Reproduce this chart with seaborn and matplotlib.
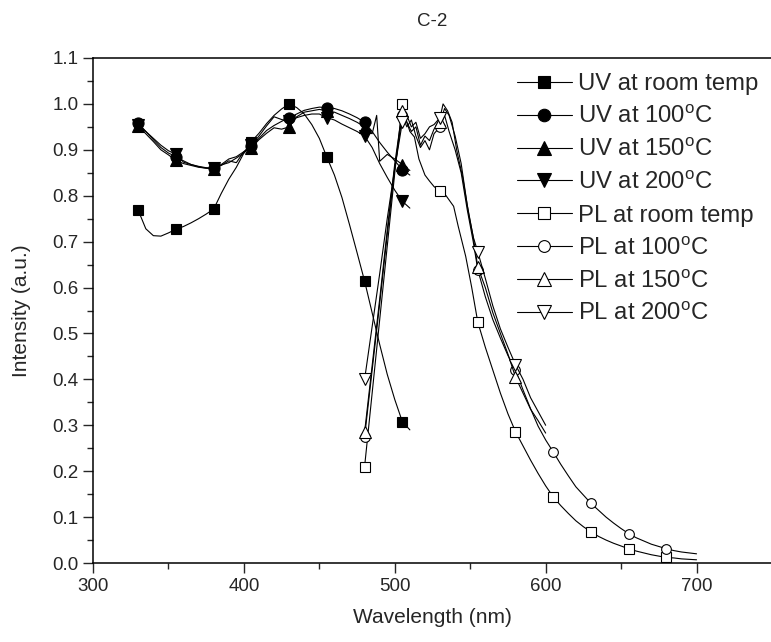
import numpy as np
import matplotlib
matplotlib.use("Agg")
import matplotlib.pyplot as plt
from matplotlib.lines import Line2D
from matplotlib.ticker import MultipleLocator
import seaborn as sns

# ---------------- absorption (UV) spectra ----------------
uv_room_wl = [330, 335, 340, 345, 350, 355, 360, 365, 370, 375, 380, 385, 390, 395,
              400, 405, 410, 415, 420, 425, 430, 435, 440, 445, 450, 455, 460, 465,
              470, 475, 480, 485, 490, 495, 500, 505, 510]
uv_room = [0.768, 0.728, 0.713, 0.712, 0.719, 0.727, 0.733, 0.741, 0.750, 0.760, 0.771,
           0.805, 0.836, 0.862, 0.893, 0.918, 0.936, 0.957, 0.975, 0.989, 1.000, 0.992,
           0.978, 0.955, 0.925, 0.884, 0.845, 0.796, 0.737, 0.676, 0.614, 0.545, 0.476,
           0.411, 0.356, 0.308, 0.290]

uv_100_wl = [330, 335, 340, 345, 350, 355, 360, 365, 370, 375, 380, 385, 390, 395,
             400, 405, 410, 415, 420, 425, 430, 435, 440, 445, 450, 455, 460, 465,
             470, 475, 480, 485, 490, 495, 500, 505, 510]
uv_100 = [0.958, 0.940, 0.922, 0.905, 0.893, 0.885, 0.876, 0.868, 0.864, 0.861, 0.860,
          0.867, 0.872, 0.882, 0.893, 0.908, 0.925, 0.942, 0.953, 0.962, 0.970, 0.978,
          0.986, 0.990, 0.993, 0.992, 0.990, 0.985, 0.978, 0.970, 0.960, 0.940, 0.916,
          0.895, 0.876, 0.857, 0.845]

uv_150_wl = [330, 335, 340, 345, 350, 355, 360, 365, 370, 375, 380, 385, 390, 395,
             400, 405, 410, 415, 420, 425, 430, 435, 440, 445, 450, 455, 460, 465,
             470, 475, 480, 485, 488, 490, 495, 500, 505, 510]
uv_150 = [0.952, 0.935, 0.918, 0.900, 0.889, 0.877, 0.870, 0.866, 0.862, 0.860, 0.858,
          0.866, 0.876, 0.872, 0.896, 0.905, 0.922, 0.936, 0.948, 0.945, 0.950, 0.972,
          0.982, 0.985, 0.988, 0.985, 0.982, 0.975, 0.968, 0.960, 0.950, 0.935, 0.975,
          0.875, 0.890, 0.880, 0.868, 0.855]

uv_200_wl = [330, 335, 340, 345, 350, 355, 360, 365, 370, 375, 380, 385, 390, 395,
             400, 405, 410, 415, 420, 425, 430, 435, 440, 445, 450, 455, 460, 465,
             470, 475, 480, 485, 490, 495, 500, 505, 510]
uv_200 = [0.955, 0.940, 0.925, 0.910, 0.898, 0.890, 0.873, 0.868, 0.863, 0.860, 0.860,
          0.868, 0.880, 0.885, 0.896, 0.910, 0.930, 0.952, 0.972, 0.966, 0.962, 0.970,
          0.975, 0.978, 0.978, 0.970, 0.965, 0.956, 0.948, 0.940, 0.930, 0.905, 0.870,
          0.840, 0.812, 0.788, 0.773]

# ---------------- photoluminescence (PL) spectra ----------------
pl_room_wl = [480, 485, 490, 495, 500, 505, 508, 510, 513, 516, 520, 523, 526, 530, 534,
              539, 542, 547, 551, 555, 560, 565, 570, 575, 580, 585, 590, 595, 600, 605,
              610, 615, 620, 625, 630, 635, 640, 645, 650, 655, 660, 665, 670, 675, 680,
              685, 690, 695, 700]
pl_room = [0.210, 0.370, 0.530, 0.690, 0.850, 0.999, 0.960, 0.940, 0.928, 0.880, 0.845,
           0.832, 0.820, 0.810, 0.800, 0.777, 0.734, 0.668, 0.600, 0.525, 0.470, 0.420,
           0.370, 0.325, 0.286, 0.255, 0.224, 0.195, 0.168, 0.144, 0.125, 0.108, 0.092,
           0.079, 0.068, 0.058, 0.050, 0.043, 0.037, 0.031, 0.026, 0.022, 0.018, 0.015,
           0.012, 0.011, 0.009, 0.008, 0.007]

pl_100_wl = [480, 485, 490, 495, 500, 505, 508, 511, 514, 517, 520, 523, 526, 530, 533,
             536, 540, 544, 548, 552, 555, 560, 565, 570, 575, 580, 585, 590, 595, 600,
             605, 610, 615, 620, 625, 630, 635, 640, 645, 650, 655, 660, 665, 670, 675,
             680, 685, 690, 695, 700]
pl_100 = [0.275, 0.420, 0.565, 0.715, 0.860, 0.975, 0.950, 0.965, 0.930, 0.905, 0.920,
          0.900, 0.935, 0.950, 0.975, 0.940, 0.900, 0.850, 0.770, 0.700, 0.639, 0.580,
          0.530, 0.490, 0.452, 0.420, 0.377, 0.336, 0.298, 0.268, 0.242, 0.215, 0.190,
          0.166, 0.148, 0.130, 0.115, 0.100, 0.087, 0.075, 0.064, 0.055, 0.048, 0.041,
          0.036, 0.031, 0.027, 0.024, 0.022, 0.020]

pl_150_wl = [480, 485, 490, 495, 500, 505, 508, 511, 514, 517, 520, 523, 526, 530, 533,
             536, 540, 544, 548, 552, 555, 560, 565, 570, 575, 580, 585, 590, 595, 600]
pl_150 = [0.285, 0.430, 0.575, 0.725, 0.870, 0.985, 0.960, 0.940, 0.950, 0.910, 0.930,
          0.920, 0.945, 0.960, 0.990, 0.975, 0.930, 0.870, 0.780, 0.710, 0.645, 0.600,
          0.545, 0.500, 0.455, 0.405, 0.370, 0.335, 0.310, 0.283]

pl_200_wl = [480, 485, 490, 495, 500, 505, 508, 511, 514, 517, 520, 523, 526, 530, 532,
             535, 538, 541, 545, 549, 552, 555, 560, 565, 570, 575, 580, 585, 590, 595, 600]
pl_200 = [0.400, 0.515, 0.630, 0.750, 0.860, 0.960, 0.975, 0.950, 0.960, 0.925, 0.935,
          0.950, 0.955, 0.970, 1.000, 0.985, 0.960, 0.900, 0.840, 0.760, 0.710, 0.678,
          0.620, 0.560, 0.510, 0.470, 0.432, 0.400, 0.360, 0.330, 0.300]

# marker positions: every 25 nm starting at 330 nm
marker_wl = list(range(330, 701, 25))

labels = ["UV at room temp", r"UV at 100$^{\mathrm{o}}$C", r"UV at 150$^{\mathrm{o}}$C",
          r"UV at 200$^{\mathrm{o}}$C", "PL at room temp", r"PL at 100$^{\mathrm{o}}$C",
          r"PL at 150$^{\mathrm{o}}$C", r"PL at 200$^{\mathrm{o}}$C"]

series = [
    (uv_room_wl, uv_room, "s", True, 7.0),
    (uv_100_wl, uv_100, "o", True, 8.0),
    (uv_150_wl, uv_150, "^", True, 8.5),
    (uv_200_wl, uv_200, "v", True, 8.5),
    (pl_room_wl, pl_room, "s", False, 6.5),
    (pl_100_wl, pl_100, "o", False, 7.0),
    (pl_150_wl, pl_150, "^", False, 8.0),
    (pl_200_wl, pl_200, "v", False, 8.0),
]

sns.set_style("ticks")
plt.rcParams["font.family"] = ["Liberation Sans", "DejaVu Sans"]
plt.rcParams["mathtext.fontset"] = "custom"
plt.rcParams["mathtext.rm"] = "Liberation Sans"
plt.rcParams["mathtext.it"] = "Liberation Sans:italic"

fig = plt.figure(figsize=(7.71, 6.42), dpi=100)
W, H = 771, 642
ax = fig.add_axes([93 / W, (H - 563) / H, (772 - 93) / W, (563 - 58) / H])

handles = []
for (wl, val, mk, filled, ms), lab in zip(series, labels):
    wl_arr = np.asarray(wl)
    every = list(np.where(np.isin(wl_arr, marker_wl))[0])
    face = "black" if filled else "white"
    sns.lineplot(x=wl, y=val, ax=ax, color="black", linewidth=0.8,
                 estimator=None, sort=False, marker=mk, markersize=ms,
                 markerfacecolor=face, markeredgecolor="black",
                 markeredgewidth=0.8, markevery=every)
    handles.append(Line2D([], [], color="black", linewidth=0.8, marker=mk,
                          markersize=ms + (1 if filled else 1.5),
                          markerfacecolor=face,
                          markeredgecolor="black", markeredgewidth=0.8, label=lab))

ax.set_xlim(300, 750)
ax.set_ylim(0.0, 1.1)
ax.xaxis.set_major_locator(MultipleLocator(100))
ax.xaxis.set_minor_locator(MultipleLocator(50))
ax.yaxis.set_major_locator(MultipleLocator(0.1))
ax.yaxis.set_minor_locator(MultipleLocator(0.05))
ax.yaxis.set_major_formatter(matplotlib.ticker.FormatStrFormatter("%.1f"))
ax.tick_params(which="major", direction="out", length=7, width=1, labelsize=13.5,
               top=False, right=False)
ax.tick_params(which="minor", direction="out", length=4, width=1, top=False, right=False)
for side in ["left", "bottom", "top", "right"]:
    ax.spines[side].set_visible(True)
    ax.spines[side].set_linewidth(1.1)
    ax.spines[side].set_color("black")

ax.set_xlabel("Wavelength (nm)", fontsize=15, labelpad=10)
ax.set_ylabel("Intensity (a.u.)", fontsize=15, labelpad=15)
ax.set_title("C-2", fontsize=13.5, pad=23)

leg = fig.legend(handles=handles, loc="upper left",
                 bbox_to_anchor=(517 / W, 1 - 73 / H), frameon=False,
                 fontsize=17.2, handlelength=2.3, handletextpad=0.25,
                 labelspacing=0.45, borderpad=0, borderaxespad=0, numpoints=1)

fig.savefig("out.png", dpi=100)
